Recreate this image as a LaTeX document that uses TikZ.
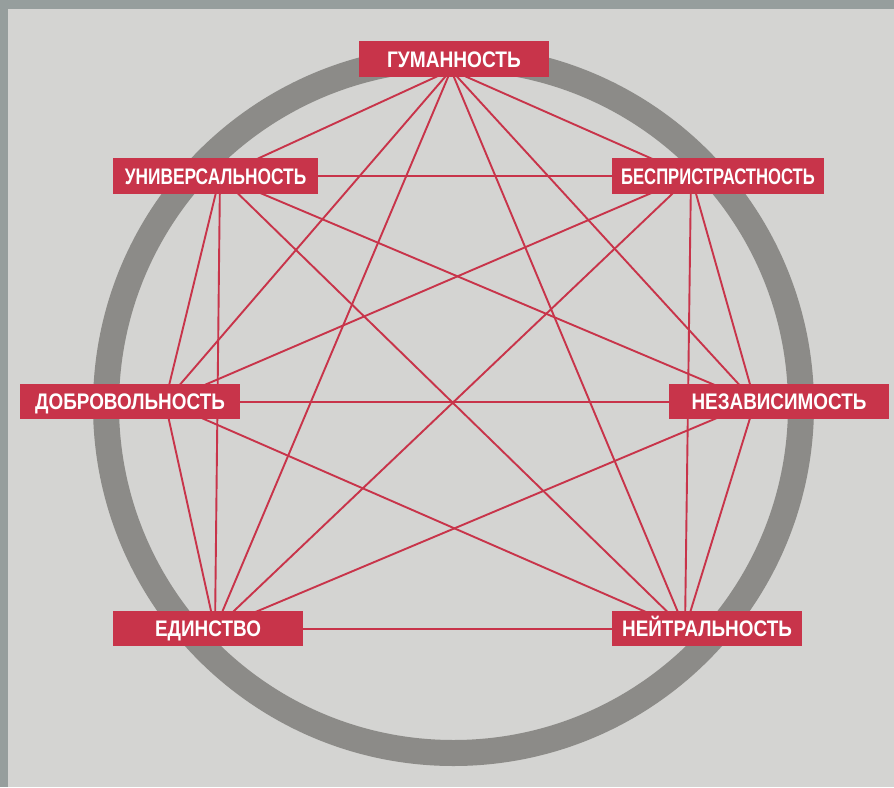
\documentclass[tikz,border=0pt]{standalone}
\usepackage{fontspec}
\usepackage{graphicx}
\newfontfamily\lblfont{Liberation Sans}
\newcommand\sqz[2]{\scalebox{#1}[1]{#2}}
\definecolor{frame}{HTML}{969E9D}
\definecolor{bg}{HTML}{D4D4D2}
\definecolor{ring}{HTML}{8C8B88}
\definecolor{rred}{HTML}{C8344A}
\tikzset{
  lbl/.style={fill=rred, text=white, font=\lblfont\bfseries\fontsize{22.5}{24}\selectfont,
    minimum height=36pt, inner sep=0pt, text height=16pt, text depth=0pt, anchor=center},
  link/.style={draw=rred, line width=1.9pt}
}
\begin{document}
\begin{tikzpicture}[x=1pt,y=-1pt]
\useasboundingbox (0,0) rectangle (894,787);
\fill[frame] (0,0) rectangle (894,787);
\fill[bg] (8,9) rectangle (894,787);
\draw[ring, line width=26pt] (453.5,405.5) circle[radius=347.5];
% vertex points of the graph
\coordinate (pA) at (451,70);
\coordinate (pB) at (220,176);
\coordinate (pC) at (691,176);
\coordinate (pD) at (165,402);
\coordinate (pE) at (755,402);
\coordinate (pF) at (215,629);
\coordinate (pG) at (685,629);
\foreach \s/\t in {A/B,A/C,A/D,A/E,A/F,A/G,B/C,B/D,B/E,B/F,B/G,C/D,C/E,C/F,C/G,D/E,D/F,D/G,E/F,E/G,F/G}
  \draw[link] (p\s) -- (p\t);
% labels
\node[lbl, minimum width=190pt] (A) at (454,59) {\sqz{0.85}{ГУМАННОСТЬ}};
\node[lbl, minimum width=205pt] (B) at (215.5,176) {\sqz{0.77}{УНИВЕРСАЛЬНОСТЬ}};
\node[lbl, minimum width=212pt] (C) at (718,176) {\sqz{0.74}{БЕСПРИСТРАСТНОСТЬ}};
\node[lbl, minimum width=220pt, minimum height=35pt] (D) at (130,401.5) {\sqz{0.84}{ДОБРОВОЛЬНОСТЬ}};
\node[lbl, minimum width=220pt, minimum height=35pt] (E) at (779,401.5) {\sqz{0.84}{НЕЗАВИСИМОСТЬ}};
\node[lbl, minimum width=190pt, minimum height=35pt] (F) at (208,628.5) {\sqz{0.84}{ЕДИНСТВО}};
\node[lbl, minimum width=190pt, minimum height=35pt] (G) at (707,628.5) {\sqz{0.84}{НЕЙТРАЛЬНОСТЬ}};
\end{tikzpicture}
\end{document}
